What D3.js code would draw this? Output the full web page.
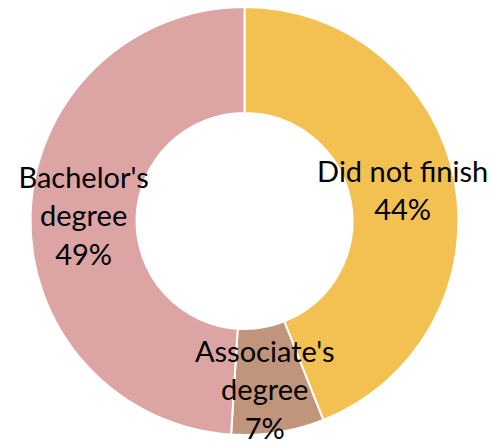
<!DOCTYPE html>
<html>
<head>
<meta charset="utf-8">
<script src="https://cdn.jsdelivr.net/npm/d3@7"></script>
<style>
  html, body { margin: 0; padding: 0; background: #fff; }
  svg { display: block; }
  text { font-family: Lato, "Open Sans", sans-serif; fill: #000; }
</style>
</head>
<body>
<svg id="chart" width="495" height="442"></svg>
<script>
// Share of respondents by highest education level
const categories = ["Did not finish", "Associate's degree", "Bachelor's degree"];
const shares = [44, 7, 49];
const labelLines = [
  ["Did not finish", "44%"],
  ["Associate's", "degree", "7%"],
  ["Bachelor's", "degree", "49%"]
];
const colors = ["#F2C151", "#C0957C", "#DDA4A4"];

const width = 495, height = 442;
const cx = 244.5, cy = 221;
const outerR = 214, innerR = 108;
const fontSize = 29, lineH = 38.5;
// per-label nudge from the slice centroid (the narrow Associate's slice label sits lower-left)
const labelNudge = [[0, 0], [-5, 10], [0, 0]];

const svg = d3.select("#chart");
const g = svg.append("g").attr("transform", `translate(${cx},${cy})`);

const pie = d3.pie().sort(null).value(d => d.value);
const arc = d3.arc().innerRadius(innerR).outerRadius(outerR);

const data = categories.map((c, i) => ({ name: c, value: shares[i], lines: labelLines[i], color: colors[i] }));
const arcs = pie(data);

g.selectAll("path.slice")
  .data(arcs)
  .join("path")
  .attr("class", "slice")
  .attr("d", arc)
  .attr("fill", d => d.data.color)
  .attr("stroke", "#fff")
  .attr("stroke-width", 2)
  .attr("stroke-linejoin", "round");

const labels = g.selectAll("text.label")
  .data(arcs)
  .join("text")
  .attr("class", "label")
  .attr("text-anchor", "middle")
  .attr("font-size", fontSize)
  .attr("transform", (d, i) => {
    const [x, y] = arc.centroid(d);
    return `translate(${x + labelNudge[i][0]},${y + labelNudge[i][1]})`;
  });

labels.each(function(d) {
  const n = d.data.lines.length;
  const t = d3.select(this);
  d.data.lines.forEach((line, k) => {
    t.append("tspan")
      .attr("x", 0)
      .attr("y", (k - (n - 1) / 2) * lineH)
      .attr("dy", "0.35em")
      .text(line);
  });
});
</script>
</body>
</html>
